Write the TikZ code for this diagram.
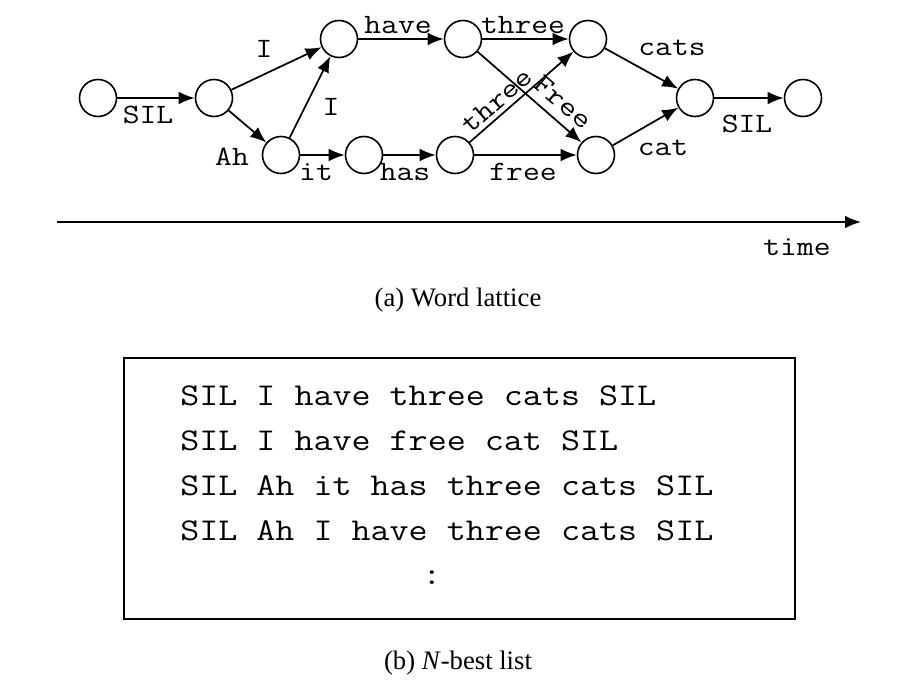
\documentclass[tikz,border=0pt]{standalone}
\usepackage{fontspec}
\setmainfont{Liberation Serif}
\setmonofont[FakeStretch=1.165]{Latin Modern Mono}
\usetikzlibrary{arrows.meta}

\begin{document}
\begin{tikzpicture}[x=0.75pt,y=0.75pt,yscale=-1,xscale=1,
  state/.style={circle,draw,line width=1.2pt,minimum size=27.75pt,inner sep=0pt},
  arc/.style={line width=1.3pt,-{Latex[length=12pt,width=9.5pt]}},
  lbl/.style={inner sep=0pt,font=\fontsize{21}{24}\selectfont\ttfamily},
  nbest/.style={anchor=west,inner sep=0pt,font=\fontsize{23.8}{28}\selectfont\ttfamily},
  capt/.style={inner sep=0pt,font=\fontsize{20}{24}\selectfont}]
\useasboundingbox (0,0) rectangle (922,696);

% lattice states
\node[state] (s1) at (98,98) {};
\node[state] (s2) at (214,98) {};
\node[state] (s3) at (339,39) {};
\node[state] (s4) at (281,155) {};
\node[state] (s5) at (364,155) {};
\node[state] (s6) at (455,155) {};
\node[state] (s7) at (463,39) {};
\node[state] (s8) at (588,39) {};
\node[state] (s9) at (596,155) {};
\node[state] (s10) at (695,98) {};
\node[state] (s11) at (803,98) {};

% word arcs
\draw[arc] (s1) -- (s2);
\draw[arc] (s2) -- (s3);
\draw[arc] (s2) -- (s4);
\draw[arc] (s4) -- (s3);
\draw[arc] (s4) -- (s5);
\draw[arc] (s5) -- (s6);
\draw[arc] (s3) -- (s7);
\draw[arc] (s7) -- (s8);
\draw[arc] (s7) -- (s9);
\draw[arc] (s6) -- (s8);
\draw[arc] (s6) -- (s9);
\draw[arc] (s8) -- (s10);
\draw[arc] (s9) -- (s10);
\draw[arc] (s10) -- (s11);

% word labels
\node[lbl] (wSILa) at (148,115) {SIL};
\node[lbl] (wIa) at (264,49) {I};
\node[lbl] (wAh) at (232,157) {Ah};
\node[lbl] (wIb) at (331,107) {I};
\node[lbl] (wit) at (316,172) {it};
\node[lbl] (whas) at (405,172) {has};
\node[lbl] (whave) at (398,25) {have};
\node[lbl] (wthreea) at (523,25) {three};
\node[lbl,rotate=41] (wthreeb) at (497,101) {three};
\node[lbl,rotate=-41] (wFree) at (563,102) {Free};
\node[lbl] (wfree) at (523,172) {free};
\node[lbl] (wcats) at (672,48) {cats};
\node[lbl] (wcat) at (663,148) {cat};
\node[lbl] (wSILb) at (747,124) {SIL};

% time axis
\coordinate (t0) at (57,222);
\coordinate (t1) at (861,222);
\draw[line width=1.3pt,-{Latex[length=12pt,width=9.5pt]}] (t0) -- (t1);
\node[lbl] (time) at (797,247) {time};

\node[capt] (capa) at (458,300) {(a) Word lattice};

% N-best box
\draw[line width=1.5pt] (124,358) rectangle (795,619);
\node[nbest] (h1) at (180,396) {SIL I have three cats SIL};
\node[nbest] (h2) at (180,441) {SIL I have free cat SIL};
\node[nbest] (h3) at (180,486) {SIL Ah it has three cats SIL};
\node[nbest] (h4) at (180,531) {SIL Ah I have three cats SIL};
\node[nbest,anchor=center] (hdots) at (432,578) {:};

\node[capt] (capb) at (458,663) {(b) \textit{N}\/-best list};
\end{tikzpicture}
\end{document}
